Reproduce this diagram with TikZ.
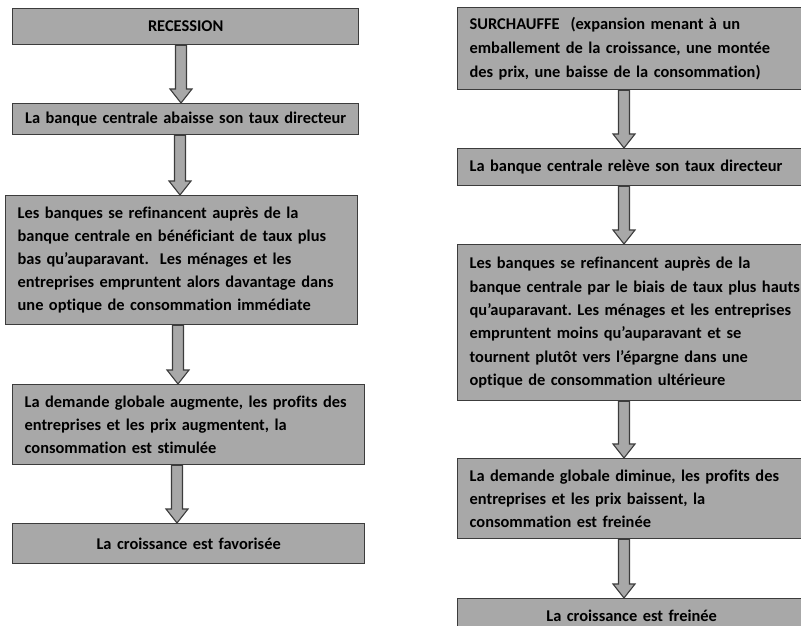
\documentclass[tikz,border=0pt]{standalone}
\usepackage{fontspec}
\setmainfont{Carlito}[WordSpace=0.7, Ligatures=NoCommon]
\usetikzlibrary{calc}
\definecolor{boxfill}{HTML}{A8A8A8}
\definecolor{boxline}{HTML}{3C3C3C}
\tikzset{
  flowbox/.style={draw=boxline, fill=boxfill, line width=1.3pt, anchor=north west,
    inner xsep=12pt, inner ysep=2pt, align=left,
    font=\fontsize{16.4}{23}\selectfont\bfseries\frenchspacing},
  flowboxc/.style={flowbox, align=center},
  blockarr/.style={draw=boxline, fill=boxfill, line width=1.1pt, line join=miter},
}
\newcommand\flowarrow[3]{%
  \draw[blockarr] let \p1=(#1.south), \p2=(#2.north) in
    (#3pt-5.5pt,\y1) -- (#3pt-5.5pt,\y2+14pt) -- (#3pt-11pt,\y2+14pt) -- (#3pt,\y2)
    -- (#3pt+11pt,\y2+14pt) -- (#3pt+5.5pt,\y2+14pt) -- (#3pt+5.5pt,\y1) -- cycle;}
\begin{document}
\begin{tikzpicture}[x=1pt,y=-1pt]
\useasboundingbox (0,0) rectangle (801,626);
% left column
\node[flowboxc, minimum width=346pt, minimum height=36pt, text width=322pt] (L1) at (12,8) {RECESSION};
\node[flowboxc, minimum width=346pt, minimum height=31pt, text width=322pt] (L2) at (12,103) {La banque centrale abaisse son taux directeur};
\node[flowbox, minimum width=352pt, minimum height=129pt, text width=328pt] (L3) at (5,195) {Les banques se refinancent auprès de la\\ banque centrale en bénéficiant de taux plus\\ bas qu’auparavant.\ \ Les ménages et les\\ entreprises empruntent alors davantage dans\\ une optique de consommation immédiate};
\node[flowbox, minimum width=352pt, minimum height=80pt, text width=328pt] (L4) at (12,384) {La demande globale augmente, les profits des\\ entreprises et les prix augmentent, la\\ consommation est stimulée};
\node[flowboxc, minimum width=352pt, minimum height=40pt, text width=328pt] (L5) at (12,523) {La croissance est favorisée};
% right column
\node[flowbox, minimum width=360pt, minimum height=82pt, text width=336pt, font=\fontsize{16.4}{24}\selectfont\bfseries\frenchspacing] (R1) at (457,7) {SURCHAUFFE\ \ (expansion menant à un\\ emballement de la croissance, une montée\\ des prix, une baisse de la consommation)};
\node[flowbox, minimum width=360pt, minimum height=37pt, text width=336pt] (R2) at (457,148) {La banque centrale relève son taux directeur};
\node[flowbox, minimum width=360pt, minimum height=156pt, text width=336pt, font=\fontsize{16.4}{23.3}\selectfont\bfseries\frenchspacing] (R3) at (457,244) {Les banques se refinancent auprès de la\\ banque centrale par le biais de taux plus hauts\\ qu’auparavant. Les ménages et les entreprises\\ empruntent moins qu’auparavant et se\\ tournent plutôt vers l’épargne dans une\\ optique de consommation ultérieure};
\node[flowbox, minimum width=360pt, minimum height=80pt, text width=336pt] (R4) at (457,458) {La demande globale diminue, les profits des\\ entreprises et les prix baissent, la\\ consommation est freinée};
\node[flowbox, minimum width=360pt, minimum height=34pt, text width=336pt, align=center] (R5) at (457,598) {\hspace*{-12pt}La croissance est freinée};
% arrows
\flowarrow{L1}{L2}{181}
\flowarrow{L2}{L3}{180}
\flowarrow{L3}{L4}{178}
\flowarrow{L4}{L5}{177}
\flowarrow{R1}{R2}{624}
\flowarrow{R2}{R3}{624}
\flowarrow{R3}{R4}{624}
\flowarrow{R4}{R5}{624}
\end{tikzpicture}
\end{document}
